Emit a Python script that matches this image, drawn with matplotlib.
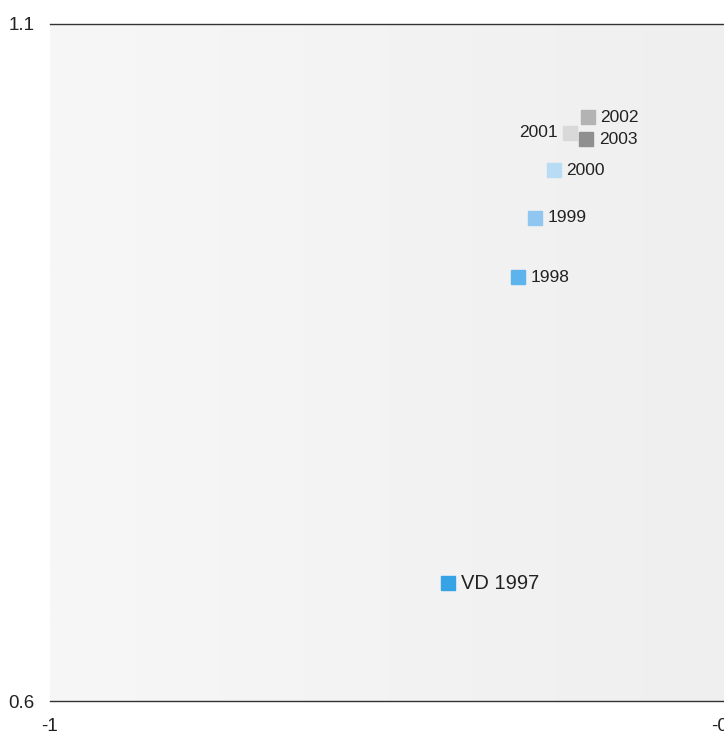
import matplotlib.pyplot as plt
import numpy as np

plt.rcParams['font.family'] = ['Liberation Sans', 'DejaVu Sans']

# data
labels = ["VD 1997", "1998", "1999", "2000", "2001", "2002", "2003"]
x_vals = [-0.706, -0.654, -0.642, -0.628, -0.616, -0.603, -0.604]
y_vals = [0.687, 0.913, 0.957, 0.992, 1.0195, 1.031, 1.015]
colors = ["#35a3e6", "#5db3ec", "#8fc7f0", "#b9dcf5", "#d9d9d9", "#b3b3b3", "#8f8f8f"]
label_side = ["right", "right", "right", "right", "left", "right", "right"]
label_size = [14.5, 12.5, 12.5, 12.5, 12.5, 12.5, 12.5]

fig = plt.figure(figsize=(7.24, 7.35), dpi=100)
ax = fig.add_axes([50 / 724, 34 / 735, 677 / 724, 677 / 735])

# light grey gradient background
grad = np.linspace(0, 1, 256).reshape(1, -1)
ax.imshow(grad, extent=[0, 1, 0, 1], transform=ax.transAxes, aspect="auto",
          cmap=plt.matplotlib.colors.LinearSegmentedColormap.from_list("bg", ["#f7f7f7", "#efefef"]),
          zorder=0)

for x, y, lab, c, side, fs in zip(x_vals, y_vals, labels, colors, label_side, label_size):
    ax.plot(x, y, marker="s", markersize=10, color=c, linestyle="none", zorder=3)
    if side == "right":
        ax.annotate(lab, (x, y), xytext=(9, 0), textcoords="offset points",
                    ha="left", va="center", fontsize=fs, color="#222222")
    else:
        ax.annotate(lab, (x, y), xytext=(-9, 0), textcoords="offset points",
                    ha="right", va="center", fontsize=fs, color="#222222")

ax.set_xlim(-1, -0.5)
ax.set_ylim(0.6, 1.1)
ax.set_xticks([-1, -0.5])
ax.set_xticklabels(["-1", "-0.5"])
ax.set_yticks([0.6, 1.1])
ax.set_yticklabels(["0.6", "1.1"])
ax.tick_params(length=0, labelsize=13.5, colors="#222222")
ax.tick_params(axis="y", pad=11)
ax.tick_params(axis="x", pad=12)

for s in ["left", "right"]:
    ax.spines[s].set_visible(False)
for s in ["top", "bottom"]:
    ax.spines[s].set_color("#333333")
    ax.spines[s].set_linewidth(1)

fig.savefig("out.png", dpi=100)
